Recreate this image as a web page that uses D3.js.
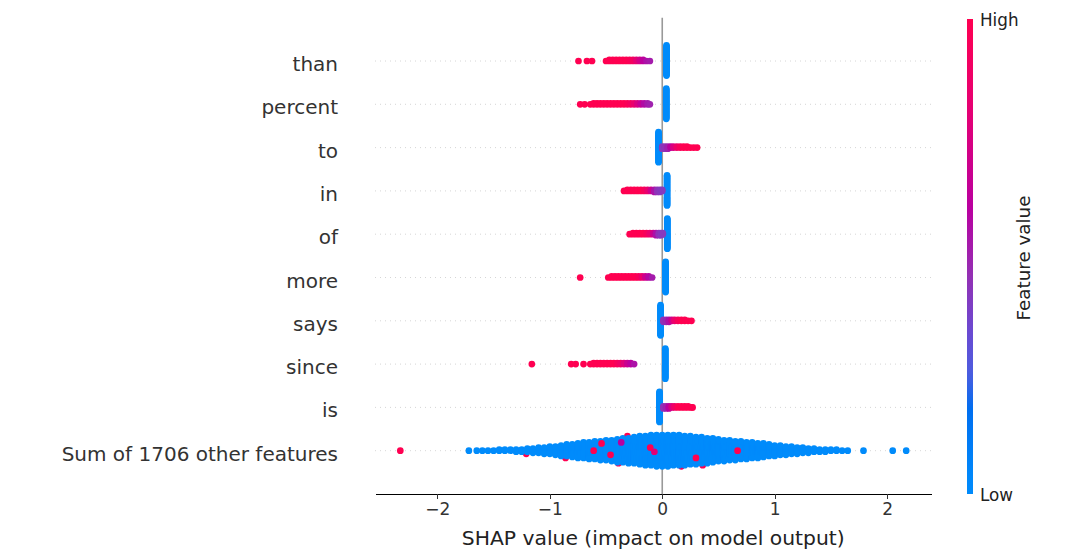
<!DOCTYPE html>
<html>
<head>
  <meta charset="utf-8">
  <script src="https://cdnjs.cloudflare.com/ajax/libs/d3/7.8.5/d3.min.js"></script>
  <style>
    * { margin: 0; padding: 0; }
    body { background: white; }
    text { font-family: "DejaVu Sans", sans-serif; }
    .axis path, .axis line { shape-rendering: crispEdges; }
  </style>
</head>
<body>
  <div id="chart"></div>
  <script>
    // row labels, top to bottom
    var features = ["than", "percent", "to", "in", "of", "more", "says", "since", "is",
      "Sum of 1706 other features"];

    // each stack: [shap value, number of points, feature value 0..1]
    var than = [[0.038, 30, 0],
      [-0.745, 1, 1], [-0.67, 1, 1], [-0.625, 1, 1],
      [-0.50, 1, 1], [-0.47, 2, 1], [-0.44, 2, 1], [-0.41, 2, 1], [-0.38, 2, 1], [-0.35, 2, 1],
      [-0.32, 2, 1], [-0.29, 2, 0.97], [-0.26, 2, 0.92], [-0.23, 2, 0.82], [-0.20, 2, 0.72],
      [-0.17, 2, 0.62], [-0.14, 1, 0.55], [-0.11, 1, 0.52]];
    var percent = [[0.036, 30, 0],
      [-0.73, 1, 1], [-0.69, 1, 1],
      [-0.64, 1, 1], [-0.61, 2, 1], [-0.58, 2, 1], [-0.55, 2, 1], [-0.52, 2, 1], [-0.49, 2, 1],
      [-0.46, 2, 1], [-0.43, 2, 1], [-0.40, 2, 1], [-0.37, 2, 1], [-0.34, 2, 1], [-0.31, 2, 0.97],
      [-0.28, 2, 0.92], [-0.25, 2, 0.85], [-0.22, 2, 0.75], [-0.19, 2, 0.65], [-0.16, 2, 0.57],
      [-0.13, 2, 0.52], [-0.11, 1, 0.5]];
    var to = [[-0.033, 30, 0],
      [0.00, 3, 0.42], [0.025, 3, 0.45], [0.05, 3, 0.5], [0.075, 2, 0.6], [0.10, 2, 0.75],
      [0.13, 2, 0.88], [0.16, 2, 0.95], [0.19, 2, 1], [0.22, 2, 1], [0.25, 1, 1], [0.28, 1, 1],
      [0.31, 1, 1]];
    var inRow = [[0.043, 30, 0],
      [-0.34, 1, 1], [-0.31, 2, 1], [-0.28, 2, 1], [-0.25, 2, 1], [-0.22, 2, 1], [-0.19, 2, 1],
      [-0.16, 2, 0.95], [-0.13, 2, 0.85], [-0.10, 2, 0.7], [-0.07, 3, 0.55], [-0.045, 3, 0.45],
      [-0.02, 3, 0.42], [0.0, 2, 0.42]];
    var of = [[0.045, 30, 0],
      [-0.29, 1, 1], [-0.26, 2, 1], [-0.23, 2, 1], [-0.20, 2, 1], [-0.17, 2, 1], [-0.14, 2, 0.95],
      [-0.11, 2, 0.85], [-0.08, 2, 0.7], [-0.055, 3, 0.55], [-0.03, 3, 0.45], [-0.01, 3, 0.42],
      [0.005, 2, 0.42]];
    var more = [[0.03, 30, 0],
      [-0.73, 1, 1],
      [-0.48, 1, 1], [-0.45, 2, 1], [-0.42, 2, 1], [-0.39, 2, 1], [-0.36, 2, 1], [-0.33, 2, 1],
      [-0.30, 2, 1], [-0.27, 2, 1], [-0.24, 2, 1], [-0.21, 2, 0.95], [-0.18, 2, 0.85],
      [-0.15, 2, 0.7], [-0.12, 2, 0.58], [-0.09, 1, 0.52]];
    var says = [[-0.015, 30, 0],
      [0.01, 3, 0.45], [0.035, 3, 0.48], [0.06, 3, 0.55], [0.085, 2, 0.7], [0.11, 2, 0.85],
      [0.14, 2, 0.95], [0.17, 2, 1], [0.20, 2, 1], [0.23, 1, 1], [0.26, 1, 1]];
    var since = [[0.027, 30, 0],
      [-1.16, 1, 1], [-0.81, 1, 1], [-0.77, 1, 1], [-0.70, 1, 1],
      [-0.64, 1, 1], [-0.61, 2, 1], [-0.58, 2, 1], [-0.55, 2, 1], [-0.52, 2, 1], [-0.49, 2, 1],
      [-0.46, 2, 1], [-0.43, 2, 1], [-0.40, 2, 0.95], [-0.37, 2, 0.88], [-0.34, 2, 0.78],
      [-0.31, 2, 0.68], [-0.28, 2, 0.6], [-0.25, 1, 0.55]];
    var is = [[-0.024, 30, 0],
      [0.01, 3, 0.45], [0.035, 3, 0.5], [0.06, 3, 0.6], [0.085, 2, 0.75], [0.11, 2, 0.88],
      [0.14, 2, 1], [0.17, 2, 1], [0.20, 2, 1], [0.23, 2, 1], [0.26, 1, 1], [0.27, 1, 1]];

    // "Sum of 1706 other features": low-valued points, read as a histogram
    var sumShap = [-1.72, -1.65, -1.60, -1.55, -1.50, -1.45, -1.40, -1.35, -1.30, -1.25, -1.20,
      -1.15, -1.10, -1.05, -1.00, -0.95, -0.90, -0.85, -0.80, -0.75, -0.70, -0.65, -0.60, -0.55,
      -0.50, -0.45, -0.40, -0.35, -0.30, -0.25, -0.20, -0.15, -0.10, -0.05, 0.00, 0.05, 0.10,
      0.15, 0.20, 0.25, 0.30, 0.35, 0.40, 0.45, 0.50, 0.55, 0.60, 0.65, 0.70, 0.75, 0.80, 0.85,
      0.90, 0.95, 1.00, 1.05, 1.10, 1.15, 1.20, 1.25, 1.30, 1.35, 1.40, 1.45, 1.50, 1.55, 1.60,
      1.65, 1.79, 2.05, 2.17];
    var sumCount = [1, 1, 1, 1, 1, 2, 2, 2, 3, 3, 4,
      5, 6, 7, 8, 9, 11, 12, 13, 15, 16, 17, 18, 19,
      20, 21, 23, 24, 25, 26, 28, 29, 30, 31, 31, 31, 30,
      30, 29, 28, 27, 26, 25, 24, 22, 21, 20, 19, 18, 17, 16, 15,
      14, 12, 11, 10, 9, 8, 7, 6, 5, 4, 3, 3, 2, 2, 1,
      1, 1, 1, 1];
    // high-valued points of that row: [shap value, feature value, stack slot]
    var sumHighBelow = [[-1.21, 1, -3], [-0.86, 1, -7], [-0.39, 1, -12], [-0.31, 1, 14],
      [0.17, 1, -15], [0.36, 1, -14]];
    var sumHighAbove = [[-2.33, 1, 0], [-0.54, 1, 7], [-0.365, 0.6, 8], [-0.61, 1, 0],
      [-0.46, 1, -4], [-0.107, 1, 3], [-0.07, 0.8, -1], [0.30, 1, -7], [0.67, 1, 0]];

    var xTicks = [-2, -1, 0, 1, 2];

    var rows = [than, percent, to, inRow, of, more, says, since, is];

    var w = 1086, h = 556;
    var plotL = 375, plotR = 931.5, plotT = 17.7, plotB = 494;
    var r = 3.35;

    var x = d3.scaleLinear().domain([-2.555, 2.395]).range([plotL, plotR]);
    var y = d3.scaleLinear().domain([-1, features.length]).range([plotB, plotT]);
    var rowStep = y(0) - y(1);
    // blue -> violet -> magenta -> red, as in the colour bar
    var color = d3.scaleLinear()
      .domain([0, 0.04, 0.18, 0.25, 0.35, 0.46, 0.6, 0.81, 1])
      .range(["#008bfb", "#0087fa", "#006ef0", "#4a5de0", "#6e48d0", "#9430b4",
        "#b900a0", "#e60073", "#ff0051"])
      .clamp(true);

    var svg = d3.select("#chart").append("svg")
      .attr("width", w)
      .attr("height", h);

    // row position from top index
    function rowY(i) { return y(features.length - 1 - i); }

    // 0, +1, -1, +2, -2 ... (positive = up)
    function slot(k) { return k % 2 ? (k + 1) / 2 : -k / 2; }

    // dotted grid lines
    svg.append("g").selectAll("line")
      .data(features)
      .enter().append("line")
      .attr("x1", plotL).attr("x2", plotR)
      .attr("y1", function(d, i) { return rowY(i); })
      .attr("y2", function(d, i) { return rowY(i); })
      .attr("stroke", "#cccccc")
      .attr("stroke-width", 0.8)
      .attr("stroke-dasharray", "1,4");

    // zero line
    svg.append("line")
      .attr("x1", x(0)).attr("x2", x(0))
      .attr("y1", plotT).attr("y2", plotB)
      .attr("stroke", "#999999")
      .attr("stroke-width", 1.6);

    var dots = svg.append("g");

    function drawPoints(pts) {
      dots.selectAll(null)
        .data(pts)
        .enter().append("circle")
        .attr("cx", function(d) { return x(d.shap); })
        .attr("cy", function(d) { return d.cy; })
        .attr("r", r)
        .attr("fill", function(d) { return color(d.fv); });
    }

    // beeswarm stacks for the named features
    rows.forEach(function(stacks, i) {
      var maxOff = d3.max(stacks, function(s) { return Math.floor(s[1] / 2); });
      var dy = 0.36 * rowStep / maxOff;
      var pts = [];
      stacks.forEach(function(s) {
        for (var k = 0; k < s[1]; k++) {
          pts.push({ shap: s[0], fv: s[2], cy: rowY(i) - slot(k) * dy });
        }
      });
      drawPoints(pts);
    });

    // the summed row
    var sumIdx = features.length - 1;
    var sumMax = Math.floor(d3.max(sumCount) / 2);
    var sumDy = 0.36 * rowStep / sumMax;
    function sumPts(list) {
      return list.map(function(d) {
        return { shap: d[0], fv: d[1], cy: rowY(sumIdx) - d[2] * sumDy };
      });
    }
    drawPoints(sumPts(sumHighBelow));
    var lowPts = [];
    sumShap.forEach(function(v, j) {
      for (var k = 0; k < sumCount[j]; k++) {
        lowPts.push({ shap: v, fv: 0, cy: rowY(sumIdx) - slot(k) * sumDy });
      }
    });
    drawPoints(lowPts);
    drawPoints(sumPts(sumHighAbove));

    // feature labels
    svg.append("g").selectAll("text")
      .data(features)
      .enter().append("text")
      .attr("x", 338)
      .attr("y", function(d, i) { return rowY(i); })
      .attr("dy", "0.5em")
      .attr("text-anchor", "end")
      .attr("fill", "#333333")
      .style("font-size", "20px")
      .text(function(d) { return d; });

    // x axis
    var xAxis = svg.append("g")
      .attr("class", "axis")
      .attr("transform", "translate(0," + plotB + ")")
      .call(d3.axisBottom(x)
        .tickValues(xTicks)
        .tickSize(5)
        .tickSizeOuter(0)
        .tickPadding(4)
        .tickFormat(function(d) { return d < 0 ? "\u2212" + Math.abs(d) : d; }));
    xAxis.select(".domain").attr("stroke", "#000").attr("stroke-width", 1.1);
    xAxis.selectAll(".tick line").attr("stroke", "#333333");
    xAxis.selectAll(".tick text")
      .attr("fill", "#333333")
      .style("font-size", "17px")
      .style("font-family", "DejaVu Sans");

    svg.append("text")
      .attr("x", (plotL + plotR) / 2)
      .attr("y", 545)
      .attr("text-anchor", "middle")
      .attr("fill", "#222")
      .style("font-size", "20.3px")
      .text("SHAP value (impact on model output)");

    // colour bar
    var grad = svg.append("defs").append("linearGradient")
      .attr("id", "fv")
      .attr("x1", 0).attr("y1", 1).attr("x2", 0).attr("y2", 0);
    grad.selectAll("stop")
      .data(d3.range(0, 1.0001, 0.02))
      .enter().append("stop")
      .attr("offset", function(d) { return d; })
      .attr("stop-color", function(d) { return color(d); });

    svg.append("rect")
      .attr("x", 967).attr("y", 19)
      .attr("width", 6).attr("height", plotB - 19)
      .attr("fill", "url(#fv)");

    svg.append("text")
      .attr("x", 980).attr("y", 20)
      .attr("dy", "0.36em")
      .attr("fill", "#222")
      .style("font-size", "16.8px")
      .text("High");
    svg.append("text")
      .attr("x", 980).attr("y", 495)
      .attr("dy", "0.36em")
      .attr("fill", "#222")
      .style("font-size", "16.8px")
      .text("Low");
    svg.append("text")
      .attr("transform", "translate(1023,258) rotate(-90)")
      .attr("text-anchor", "middle")
      .attr("dy", "0.36em")
      .attr("fill", "#222")
      .style("font-size", "18.3px")
      .text("Feature value");
  </script>
</body>
</html>
